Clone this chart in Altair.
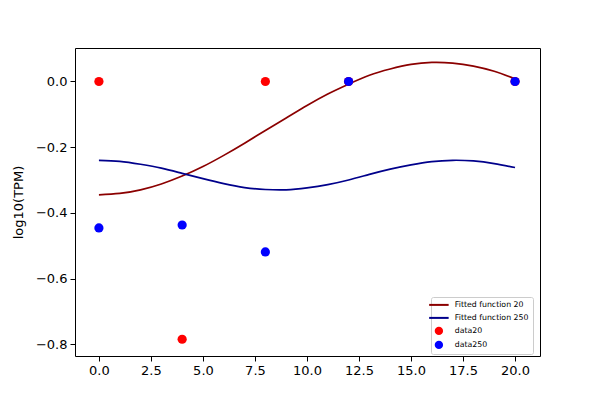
import altair as alt
import pandas as pd

# curve samples
curve_x = list(range(0, 21))
fit20 = [-0.345, -0.341, -0.330, -0.312, -0.288, -0.259, -0.225, -0.188, -0.149, -0.111,
         -0.073, -0.038, -0.008, 0.019, 0.038, 0.052, 0.058, 0.056, 0.047, 0.031, 0.008]
fit250 = [-0.240, -0.243, -0.252, -0.264, -0.280, -0.296, -0.311, -0.323, -0.329, -0.330,
          -0.324, -0.314, -0.300, -0.283, -0.267, -0.254, -0.244, -0.240, -0.242, -0.250, -0.262]

# scatter data
data_x = [0, 4, 8, 12, 20]
data20 = [0.0, -0.785, 0.0, 0.0, 0.0]
data250 = [-0.446, -0.437, -0.519, 0.0, 0.0]

series = ["Fitted function 20", "Fitted function 250", "data20", "data250"]
colors = ["#8B0000", "#00008B", "#FF0000", "#0000FF"]
shapes = ["stroke", "stroke", "circle", "circle"]

lines = pd.DataFrame(
    [{"x": x, "y": y, "series": series[0]} for x, y in zip(curve_x, fit20)]
    + [{"x": x, "y": y, "series": series[1]} for x, y in zip(curve_x, fit250)]
)
pts = pd.DataFrame(
    [{"x": x, "y": y, "series": series[2]} for x, y in zip(data_x, data20)]
    + [{"x": x, "y": y, "series": series[3]} for x, y in zip(data_x, data250)]
)

xscale = alt.Scale(domain=[-1.15, 21.2], nice=False, zero=False)
yscale = alt.Scale(domain=[-0.836, 0.102], nice=False, zero=False)

xaxis = alt.Axis(values=[0, 2.5, 5, 7.5, 10, 12.5, 15, 17.5, 20], format=".1f", title=None,
                 grid=False, domain=False, tickColor="black", tickSize=5, labelColor="black",
                 labelFontSize=13, labelFont="DejaVu Sans", labelPadding=3)
yaxis = alt.Axis(values=[-0.8, -0.6, -0.4, -0.2, 0.0],
                 labelExpr="replace(format(datum.value, '.1f'), '-', '\u2212')",
                 title="log10(TPM)", grid=False, domain=False, tickColor="black", tickSize=5,
                 labelColor="black", labelFontSize=13, labelFont="DejaVu Sans", labelPadding=3,
                 titleFont="DejaVu Sans", titleFontSize=13, titleFontWeight="normal",
                 titleColor="black", titlePadding=10)

is_pt = "indexof(['data20','data250'], datum.value) >= 0"
legend = alt.Legend(
    title=None, orient="none", legendX=356, legendY=249,
    labelFont="DejaVu Sans", labelFontSize=7.8, labelColor="black",
    symbolSize=alt.ExprRef(expr=is_pt + " ? 70 : 380"),
    symbolStrokeWidth=alt.ExprRef(expr=is_pt + " ? 0 : 2"),
    symbolStrokeColor=alt.ExprRef(expr="scale('color', datum.value)"),
    symbolFillColor=alt.ExprRef(expr="scale('color', datum.value)"),
    padding=4, labelOffset=12, rowPadding=4,
    strokeColor="#cccccc", fillColor="white", cornerRadius=2,
)
color = alt.Color("series:N", scale=alt.Scale(domain=series, range=colors), legend=legend)
shape = alt.Shape("series:N", scale=alt.Scale(domain=series, range=shapes), legend=legend)

line_layer = alt.Chart(lines).mark_line(strokeWidth=1.7, interpolate="natural").encode(
    x=alt.X("x:Q", scale=xscale, axis=xaxis),
    y=alt.Y("y:Q", scale=yscale, axis=yaxis),
    color=color,
    detail="series:N",
)
point_layer = alt.Chart(pts).mark_point(filled=True, size=85, opacity=1).encode(
    x=alt.X("x:Q", scale=xscale),
    y=alt.Y("y:Q", scale=yscale),
    color=color,
    shape=shape,
)

chart = alt.layer(line_layer, point_layer).properties(
    width=465, height=308,
    autosize=alt.AutoSizeParams(type="none"),
    padding={"left": 67, "top": 40, "right": 40, "bottom": 30},
).configure(background="white").configure_view(stroke="black", strokeWidth=1)

chart.save("out.html", embed_options={"renderer": "svg", "actions": False})
